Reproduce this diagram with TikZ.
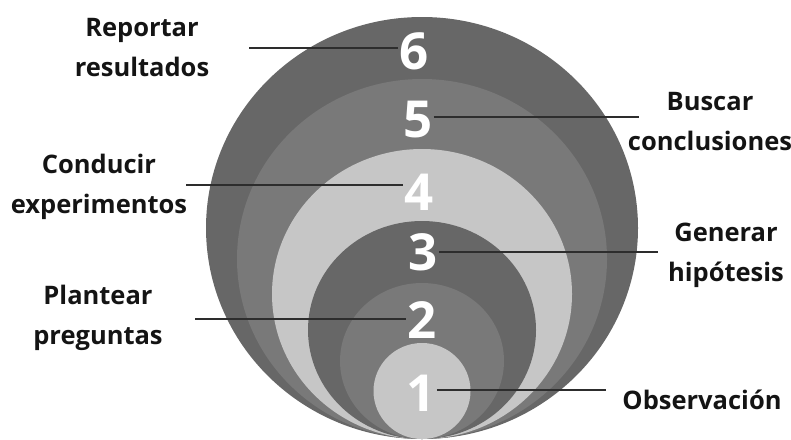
\documentclass[tikz,border=0pt]{standalone}
\usepackage{fontspec}
\setmainfont{Open Sans}
\usepackage{tikz}
\usepackage{xcolor}
\usetikzlibrary{calc,positioning}
\definecolor{rgDark}{RGB}{103,103,103}
\definecolor{rgMid}{RGB}{121,121,121}
\definecolor{rgLight}{RGB}{198,198,198}
\definecolor{rgInk}{RGB}{20,20,20}
\definecolor{rgRule}{RGB}{45,45,45}

\begin{document}
\begin{tikzpicture}[x=1pt,y=-1pt,
  ringnum/.style={text=white,font=\fontsize{51}{51}\selectfont\bfseries,inner sep=1pt},
  steplabel/.style={text=rgInk,align=center,font=\fontsize{25.5}{40}\selectfont\bfseries},
  leader/.style={draw=rgRule,line width=1.1pt}]
  \useasboundingbox (0,0) rectangle (791,439);
  % rings, outer to inner, all touching at the bottom
  \fill[rgDark]  (422,439-211) ellipse [x radius=216,y radius=211];
  \fill[rgMid]   (422,439-180) ellipse [x radius=185,y radius=180];
  \fill[rgLight] (422,439-145) ellipse [x radius=150,y radius=145];
  \fill[rgDark]  (422,439-109) ellipse [x radius=114,y radius=109];
  \fill[rgMid]   (422,439-78)  ellipse [x radius=82,y radius=78];
  \fill[rgLight] (422,439-48)  ellipse [x radius=48.5,y radius=48];
  % step numbers
  \node[ringnum] (d6) at (414,51) {6};
  \node[ringnum] (d5) at (418,120) {5};
  \node[ringnum] (d4) at (419,192) {4};
  \node[ringnum] (d3) at (423,252) {3};
  \node[ringnum] (d2) at (422,320) {2};
  \node[ringnum] (d1) at (421,393) {1};
  % labels
  \node[steplabel] (l6) at (142,48)  {Reportar\\resultados};
  \node[steplabel] (l5) at (710,122) {Buscar\\conclusiones};
  \node[steplabel] (l4) at (99,187)  {Conducir\\experimentos};
  \node[steplabel] (l3) at (726,255) {Generar\\hipótesis};
  \node[steplabel] (l2) at (98,318)  {Plantear\\preguntas};
  \node[steplabel] (l1) at (702,400) {Observación};
  % leader lines
  \coordinate (c6) at (249,48);
  \coordinate (c5) at (639,117);
  \coordinate (c4) at (186,185);
  \coordinate (c3) at (658,252);
  \coordinate (c2) at (195,319);
  \coordinate (c1) at (606,390);
  \draw[leader] (c6) -- (c6 -| d6.west);
  \draw[leader] (c5 -| d5.east) -- (c5);
  \draw[leader] (c4) -- (c4 -| d4.west);
  \draw[leader] (c3 -| d3.east) -- (c3);
  \draw[leader] (c2) -- (c2 -| d2.west);
  \draw[leader] (c1 -| d1.east) -- (c1);
\end{tikzpicture}
\end{document}
